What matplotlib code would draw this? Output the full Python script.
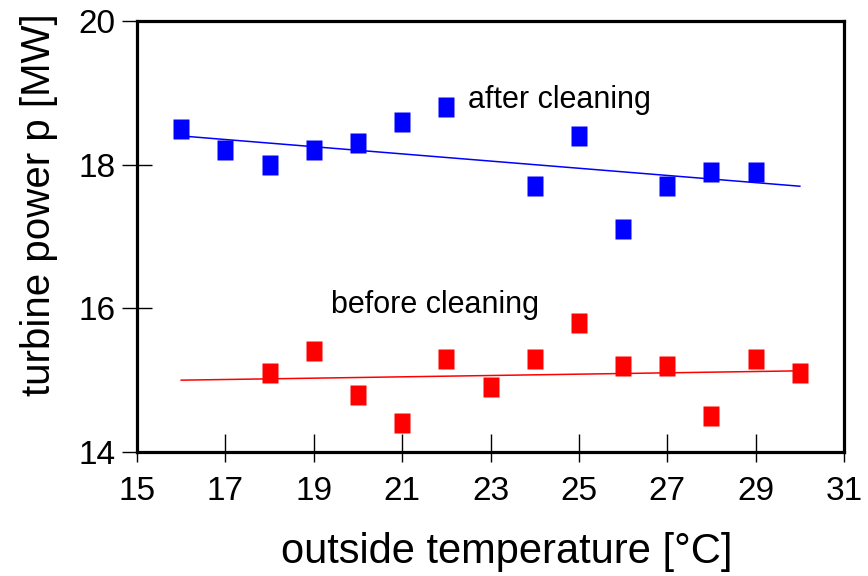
import matplotlib
matplotlib.use('Agg')
import matplotlib.pyplot as plt
import numpy as np

# data
t_after = [16, 17, 18, 19, 20, 21, 22, 24, 25, 26, 27, 28, 29]
p_after = [18.5, 18.2, 18.0, 18.2, 18.3, 18.6, 18.8, 17.7, 18.4, 17.1, 17.7, 17.9, 17.9]
t_before = [18, 19, 20, 21, 22, 23, 24, 25, 26, 27, 28, 29, 30]
p_before = [15.1, 15.4, 14.8, 14.4, 15.3, 14.9, 15.3, 15.8, 15.2, 15.2, 14.5, 15.3, 15.1]

# trend lines (end points)
fit_t = [16, 30]
fit_after = [18.4, 17.7]
fit_before = [15.0, 15.13]

xticks = [15, 17, 19, 21, 23, 25, 27, 29, 31]
yticks = [14, 16, 18, 20]

plt.rcParams['font.family'] = ['Liberation Sans', 'DejaVu Sans']

fig = plt.figure(figsize=(8.68, 5.76), dpi=100)
ax = fig.add_axes([137/868, 1-452/576, (844-137)/868, (452-21)/576])

rect = [(-0.42, -0.5), (0.42, -0.5), (0.42, 0.5), (-0.42, 0.5), (-0.42, -0.5)]

ax.plot(fit_t, fit_after, color='#0000ff', lw=1.1)
ax.plot(fit_t, fit_before, color='#ff0000', lw=1.1)
ax.plot(t_after, p_after, ls='none', marker=rect, ms=13.7, color='#0000ff', mec='none')
ax.plot(t_before, p_before, ls='none', marker=rect, ms=13.7, color='#ff0000', mec='none')

ax.text(22.5, 18.9, 'after cleaning', fontsize=22, ha='left', va='center')
ax.text(19.4, 16.05, 'before cleaning', fontsize=22, ha='left', va='center')

ax.set_xlim(15, 31)
ax.set_ylim(14, 20)
ax.set_xticks(xticks)
ax.set_yticks(yticks)
ax.xaxis.set_minor_locator(matplotlib.ticker.FixedLocator(xticks))
ax.xaxis.remove_overlapping_locs = False
ax.tick_params(axis='x', which='major', direction='in', length=13, width=1, labelsize=24, pad=17)
ax.tick_params(axis='x', which='minor', direction='out', length=7, width=1)
ax.tick_params(axis='y', direction='inout', length=21, width=1, labelsize=24, pad=5)

for s in ax.spines.values():
    s.set_linewidth(2.3)

ax.set_xlabel('outside temperature [°C]', fontsize=30, va='top')
ax.set_ylabel('turbine power p [MW]', fontsize=29)
ax.xaxis.set_label_coords((507-137)/707, (452-532)/431)
ax.yaxis.set_label_coords((58-137)/707, (452-205)/431)

fig.savefig('out.png', dpi=100)
